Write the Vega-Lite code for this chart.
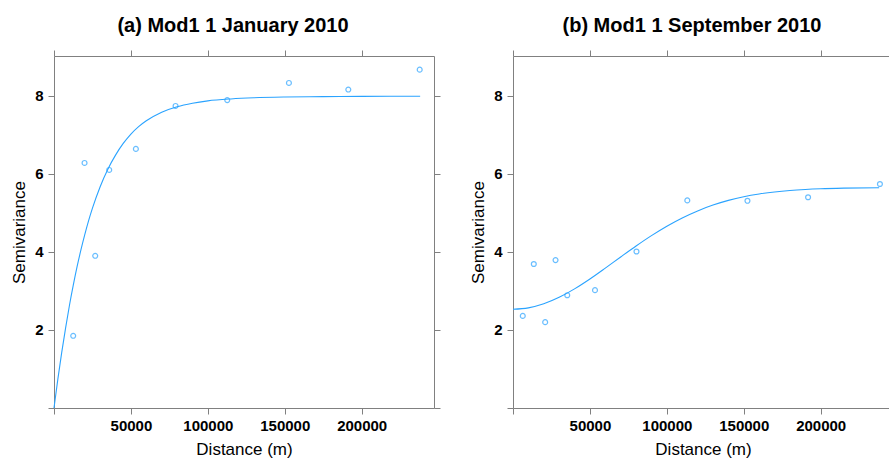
{
  "$schema": "https://vega.github.io/schema/vega-lite/v6.json",
  "padding": {"left": 10, "top": 15, "right": 0, "bottom": 0},
  "config": {
    "font": "Liberation Sans",
    "view": {"stroke": "#808080", "strokeWidth": 1},
    "axis": {
      "domain": false, "grid": false, "tickColor": "#808080", "tickSize": 6,
      "labelFont": "Liberation Sans", "labelFontSize": 15, "labelFontWeight": "bold", "labelColor": "#000000",
      "titleFont": "Liberation Sans", "titleFontSize": 17, "titleFontWeight": "normal", "titleColor": "#000000"
    },
    "axisBottom": {"labelPadding": 4, "titlePadding": 8},
    "axisLeft": {"labelPadding": 5, "titlePadding": 6},
    "title": {"font": "Liberation Sans", "fontSize": 20, "fontWeight": "bold", "color": "#000000"},
    "concat": {"spacing": 28}
  },
  "datasets": {
    "ptsA": [
      {"distance": 12480, "gamma": 1.85},
      {"distance": 19850, "gamma": 6.28},
      {"distance": 26790, "gamma": 3.90},
      {"distance": 35880, "gamma": 6.10},
      {"distance": 53220, "gamma": 6.64},
      {"distance": 79010, "gamma": 7.74},
      {"distance": 112600, "gamma": 7.89},
      {"distance": 152700, "gamma": 8.33},
      {"distance": 191300, "gamma": 8.16},
      {"distance": 237700, "gamma": 8.67}
    ],
    "curveA": [
      {"distance": 0, "gamma": 0},
      {"distance": 2500, "gamma": 0.74},
      {"distance": 5000, "gamma": 1.42},
      {"distance": 7500, "gamma": 2.04},
      {"distance": 10000, "gamma": 2.62},
      {"distance": 12500, "gamma": 3.14},
      {"distance": 15000, "gamma": 3.62},
      {"distance": 17500, "gamma": 4.05},
      {"distance": 20000, "gamma": 4.44},
      {"distance": 22500, "gamma": 4.80},
      {"distance": 25000, "gamma": 5.12},
      {"distance": 30000, "gamma": 5.67},
      {"distance": 35000, "gamma": 6.12},
      {"distance": 40000, "gamma": 6.48},
      {"distance": 45000, "gamma": 6.78},
      {"distance": 50000, "gamma": 7.02},
      {"distance": 55000, "gamma": 7.21},
      {"distance": 60000, "gamma": 7.36},
      {"distance": 70000, "gamma": 7.58},
      {"distance": 80000, "gamma": 7.72},
      {"distance": 90000, "gamma": 7.81},
      {"distance": 100000, "gamma": 7.87},
      {"distance": 115000, "gamma": 7.92},
      {"distance": 130000, "gamma": 7.95},
      {"distance": 150000, "gamma": 7.97},
      {"distance": 175000, "gamma": 7.98},
      {"distance": 200000, "gamma": 7.985},
      {"distance": 238000, "gamma": 7.99}
    ],
    "ptsB": [
      {"distance": 6350, "gamma": 2.36},
      {"distance": 13520, "gamma": 3.69},
      {"distance": 20910, "gamma": 2.20},
      {"distance": 27650, "gamma": 3.79},
      {"distance": 35260, "gamma": 2.89},
      {"distance": 53300, "gamma": 3.02},
      {"distance": 80260, "gamma": 4.01},
      {"distance": 113300, "gamma": 5.32},
      {"distance": 152400, "gamma": 5.31},
      {"distance": 191800, "gamma": 5.40},
      {"distance": 238500, "gamma": 5.74}
    ],
    "curveB": [
      {"distance": 0, "gamma": 2.53},
      {"distance": 10000, "gamma": 2.566},
      {"distance": 20000, "gamma": 2.67},
      {"distance": 30000, "gamma": 2.836},
      {"distance": 40000, "gamma": 3.053},
      {"distance": 50000, "gamma": 3.307},
      {"distance": 60000, "gamma": 3.585},
      {"distance": 70000, "gamma": 3.871},
      {"distance": 80000, "gamma": 4.152},
      {"distance": 90000, "gamma": 4.417},
      {"distance": 100000, "gamma": 4.659},
      {"distance": 110000, "gamma": 4.871},
      {"distance": 120000, "gamma": 5.051},
      {"distance": 130000, "gamma": 5.2},
      {"distance": 140000, "gamma": 5.32},
      {"distance": 150000, "gamma": 5.414},
      {"distance": 160000, "gamma": 5.484},
      {"distance": 170000, "gamma": 5.536},
      {"distance": 180000, "gamma": 5.574},
      {"distance": 190000, "gamma": 5.6},
      {"distance": 200000, "gamma": 5.618},
      {"distance": 215000, "gamma": 5.634},
      {"distance": 238000, "gamma": 5.645}
    ]
  },
  "hconcat": [
    {
      "title": {"text": "(a) Mod1 1 January 2010", "dx": -11, "baseline": "alphabetic", "offset": -2},
      "width": 380,
      "height": 352,
      "layer": [
        {
          "data": {"name": "ptsA"},
          "mark": {"type": "point", "shape": "circle", "size": 24, "strokeWidth": 1.2, "color": "#2aa3ff", "filled": false},
          "encoding": {
            "x": {"field": "distance", "type": "quantitative", "scale": {"domain": [0, 247000], "nice": false, "zero": false},
                  "axis": {"orient": "bottom", "title": "Distance (m)", "values": [0, 50000, 100000, 150000, 200000], "format": "d", "labelExpr": "datum.value === 0 ? '' : datum.label"}},
            "y": {"field": "gamma", "type": "quantitative", "scale": {"domain": [0, 9.02], "nice": false, "zero": false},
                  "axis": {"orient": "left", "title": "Semivariance", "values": [0, 2, 4, 6, 8], "labelExpr": "datum.value === 0 ? '' : datum.label"}}
          }
        },
        {
          "data": {"name": "curveA"},
          "mark": {"type": "line", "color": "#2aa3ff", "strokeWidth": 1.1, "interpolate": "monotone"},
          "encoding": {
            "x": {"field": "distance", "type": "quantitative", "axis": {"orient": "top", "labels": false, "title": null, "values": [0, 50000, 100000, 150000, 200000]}},
            "y": {"field": "gamma", "type": "quantitative", "axis": {"orient": "right", "labels": false, "title": null, "values": [0, 2, 4, 6, 8]}}
          }
        }
      ],
      "resolve": {"axis": {"x": "independent", "y": "independent"}}
    },
    {
      "title": {"text": "(b) Mod1 1 September 2010", "dx": -11, "baseline": "alphabetic", "offset": -2},
      "width": 380,
      "height": 352,
      "layer": [
        {
          "data": {"name": "ptsB"},
          "mark": {"type": "point", "shape": "circle", "size": 24, "strokeWidth": 1.2, "color": "#2aa3ff", "filled": false},
          "encoding": {
            "x": {"field": "distance", "type": "quantitative", "scale": {"domain": [0, 247000], "nice": false, "zero": false},
                  "axis": {"orient": "bottom", "title": "Distance (m)", "values": [0, 50000, 100000, 150000, 200000], "format": "d", "labelExpr": "datum.value === 0 ? '' : datum.label"}},
            "y": {"field": "gamma", "type": "quantitative", "scale": {"domain": [0, 9.02], "nice": false, "zero": false},
                  "axis": {"orient": "left", "title": "Semivariance", "values": [0, 2, 4, 6, 8], "labelExpr": "datum.value === 0 ? '' : datum.label"}}
          }
        },
        {
          "data": {"name": "curveB"},
          "mark": {"type": "line", "color": "#2aa3ff", "strokeWidth": 1.1, "interpolate": "monotone"},
          "encoding": {
            "x": {"field": "distance", "type": "quantitative", "axis": {"orient": "top", "labels": false, "title": null, "values": [0, 50000, 100000, 150000, 200000]}},
            "y": {"field": "gamma", "type": "quantitative", "axis": {"orient": "right", "labels": false, "title": null, "values": [0, 2, 4, 6, 8]}}
          }
        }
      ],
      "resolve": {"axis": {"x": "independent", "y": "independent"}}
    }
  ]
}
